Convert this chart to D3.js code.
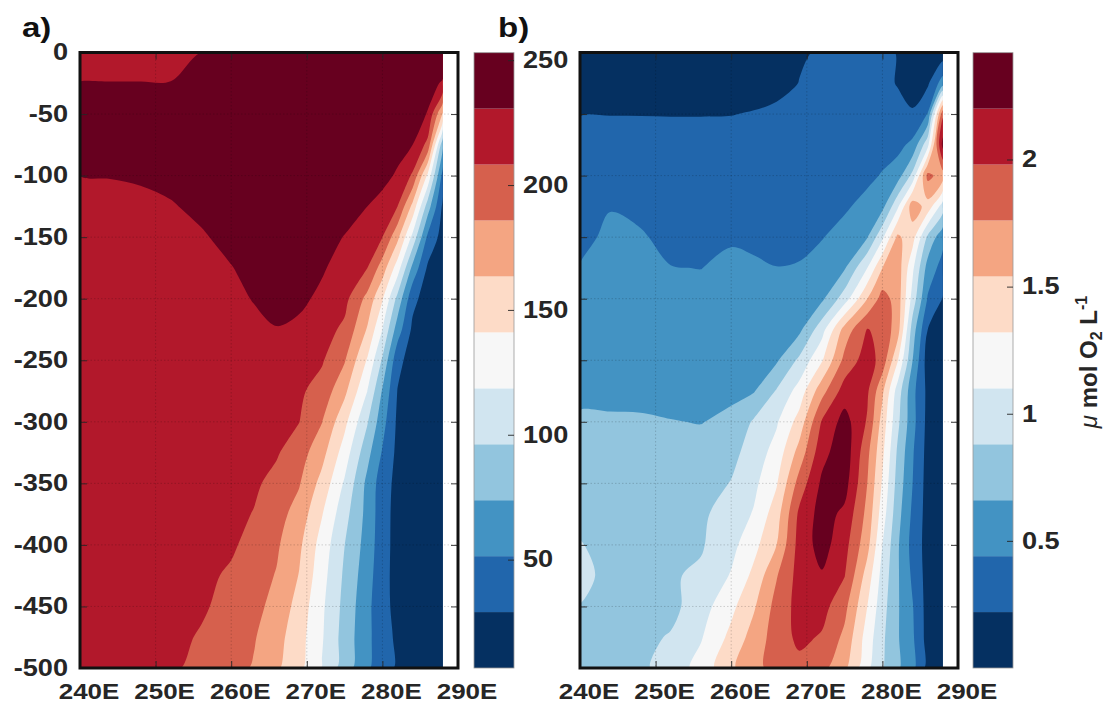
<!DOCTYPE html>
<html>
<head>
<meta charset="utf-8">
<script src="https://cdn.jsdelivr.net/npm/d3@7"></script>
<style>
  html, body { margin: 0; padding: 0; background: #fff; }
  svg { display: block; font-family: "Liberation Sans", Arial, Helvetica, sans-serif; font-weight: bold; }
</style>
</head>
<body>
<svg id="chart" width="1113" height="704"></svg>
<script>
// ---- grid coordinates of the two sections ----
const lonGrid = [240, 244, 248, 252, 256, 260, 263, 266, 269, 272, 275, 278, 280, 282, 284, 286, 288];
const depthGrid = [0, -25, -50, -75, -100, -125, -150, -175, -200, -225, -250, -275, -300, -325, -350, -375, -400, -425, -450, -475, -500];

// ---- panel a) field (rows = depth, columns = longitude) ----
const fieldA = [
  [223.9, 223.9, 223.9, 225.0, 230.6, 239.6, 241.8, 244, 244, 244, 244, 244, 244, 244, 244, 244, 244],
  [231.0, 231.0, 231.0, 231.0, 237.3, 241.8, 242.9, 244, 244, 244, 244, 244, 244, 244, 244, 237.3, 228.4],
  [237.3, 237.3, 238.4, 239.6, 241.8, 242.9, 244, 244, 244, 244, 244, 244, 244, 244, 239.6, 229.5, 161.2],
  [236.2, 237.3, 238.4, 239.6, 241.8, 242.9, 244, 244, 244, 244, 244, 244, 244, 239.6, 230.6, 201.5, 78.3],
  [230.6, 231.3, 232.8, 236.2, 239.6, 241.8, 242.9, 244, 244, 244, 244, 244, 238.4, 227.2, 205.1, 136.5, 42.4],
  [223.9, 225.0, 226.1, 229.0, 235.1, 239.6, 241.8, 242.9, 242.9, 241.8, 238.4, 230.6, 221.6, 208.5, 156.9, 85.0, 24.5],
  [220.5, 220.5, 221.6, 223.9, 228.4, 236.2, 239.6, 240.7, 239.6, 237.3, 229.9, 214.9, 208.5, 169.4, 112.1, 46.5, 20.0],
  [219.4, 219.4, 219.4, 221.6, 223.9, 229.9, 236.2, 238.4, 237.3, 232.4, 223.9, 208.6, 175.0, 129.8, 67.3, 25.6, 16.7],
  [219.4, 219.4, 219.4, 219.4, 221.6, 225.0, 231.7, 236.2, 234.0, 227.2, 214.9, 179.3, 143.0, 89.7, 35.0, 18.9, 15.6],
  [219.4, 219.4, 219.4, 219.4, 219.4, 221.6, 225.0, 229.9, 227.2, 217.2, 203.7, 161.4, 118.8, 62.6, 24.5, 16.7, 15.6],
  [219.4, 219.4, 219.4, 219.4, 219.4, 219.4, 219.4, 219.4, 216.0, 210.4, 187.6, 139.0, 93.5, 35.7, 18.9, 15.6, 15.6],
  [219.4, 219.4, 219.4, 219.4, 219.4, 219.4, 219.4, 216.0, 211.6, 199.9, 168.8, 118.8, 71.8, 28.3, 17.8, 15.6, 15.6],
  [219.4, 219.4, 219.4, 219.4, 219.4, 219.4, 217.2, 212.7, 208.6, 186.5, 147.0, 98.2, 59.9, 25.0, 17.8, 15.6, 15.6],
  [219.4, 219.4, 219.4, 219.4, 219.4, 218.3, 214.9, 210.4, 195.9, 171.2, 130.5, 81.2, 49.4, 23.4, 17.8, 15.6, 15.6],
  [219.4, 219.4, 219.4, 219.4, 219.4, 216.0, 211.6, 201.9, 187.4, 156.0, 115.7, 68.2, 39.5, 22.3, 17.8, 15.6, 15.6],
  [219.4, 219.4, 219.4, 219.4, 217.2, 213.8, 207.3, 194.3, 176.8, 142.3, 104.0, 66.9, 38.0, 21.2, 17.8, 15.6, 15.6],
  [219.4, 219.4, 219.4, 219.4, 216.0, 211.6, 200.1, 188.9, 167.7, 131.8, 96.4, 64.6, 37.5, 21.2, 17.8, 15.6, 15.6],
  [219.4, 219.4, 219.4, 218.3, 213.8, 204.8, 195.0, 184.5, 162.3, 126.9, 92.4, 60.8, 36.4, 21.2, 17.8, 15.6, 15.6],
  [219.4, 219.4, 219.4, 216.0, 211.6, 199.9, 191.6, 179.3, 154.4, 122.6, 89.5, 57.2, 36.2, 22.3, 17.8, 15.6, 15.6],
  [219.4, 219.4, 218.3, 214.9, 206.0, 195.4, 187.6, 171.5, 149.7, 120.8, 87.0, 56.6, 38.9, 24.5, 17.8, 15.6, 15.6],
  [219.4, 219.4, 217.2, 211.6, 201.7, 192.1, 184.0, 166.8, 146.2, 117.5, 85.0, 54.5, 39.1, 25.6, 17.8, 15.6, 15.6]
];

// ---- panel b) oxygen field, umol O2 / L (rows = depth, columns = longitude) ----
const fieldB = [
  [0.11, 0.11, 0.11, 0.11, 0.11, 0.121, 0.143, 0.176, 0.209, 0.229, 0.286, 0.286, 0.253, 0.213, 0.132, 0.11, 0.088],
  [0.165, 0.165, 0.165, 0.165, 0.165, 0.169, 0.169, 0.187, 0.222, 0.264, 0.286, 0.286, 0.253, 0.213, 0.132, 0.187, 0.55],
  [0.216, 0.216, 0.216, 0.216, 0.216, 0.217, 0.227, 0.242, 0.26, 0.286, 0.297, 0.297, 0.286, 0.264, 0.242, 0.451, 1.936],
  [0.262, 0.288, 0.277, 0.262, 0.262, 0.268, 0.273, 0.282, 0.297, 0.297, 0.308, 0.319, 0.341, 0.374, 0.495, 1.034, 2.288],
  [0.308, 0.361, 0.341, 0.308, 0.306, 0.321, 0.319, 0.321, 0.332, 0.341, 0.352, 0.385, 0.458, 0.55, 0.946, 1.826, 1.65],
  [0.354, 0.433, 0.405, 0.354, 0.35, 0.374, 0.365, 0.361, 0.37, 0.385, 0.407, 0.517, 0.594, 1.056, 1.672, 1.452, 0.99],
  [0.4, 0.471, 0.455, 0.4, 0.394, 0.425, 0.411, 0.403, 0.407, 0.429, 0.528, 0.649, 1.056, 1.584, 1.408, 0.836, 0.506],
  [0.447, 0.504, 0.491, 0.444, 0.438, 0.471, 0.46, 0.442, 0.449, 0.539, 0.638, 1.1, 1.54, 1.672, 1.144, 0.572, 0.352],
  [0.495, 0.537, 0.528, 0.488, 0.482, 0.51, 0.508, 0.506, 0.528, 0.616, 0.99, 1.54, 1.848, 1.672, 1.012, 0.418, 0.209],
  [0.539, 0.57, 0.563, 0.532, 0.528, 0.552, 0.557, 0.57, 0.607, 1.012, 1.628, 1.991, 1.914, 1.65, 0.77, 0.22, 0.132],
  [0.585, 0.605, 0.598, 0.576, 0.572, 0.594, 0.605, 0.631, 0.924, 1.298, 1.826, 2.09, 1.892, 1.342, 0.66, 0.11, 0.099],
  [0.631, 0.638, 0.634, 0.62, 0.616, 0.636, 0.645, 0.898, 1.188, 1.679, 2.081, 2.017, 1.584, 1.005, 0.506, 0.165, 0.11],
  [0.678, 0.671, 0.671, 0.664, 0.656, 0.686, 0.909, 1.074, 1.404, 2.0, 2.288, 1.958, 1.452, 0.935, 0.513, 0.154, 0.11],
  [0.726, 0.722, 0.715, 0.704, 0.704, 0.814, 0.979, 1.184, 1.624, 2.127, 2.343, 1.819, 1.368, 0.847, 0.462, 0.143, 0.11],
  [0.759, 0.748, 0.744, 0.737, 0.77, 0.891, 1.047, 1.3, 1.848, 2.242, 2.288, 1.76, 1.294, 0.796, 0.44, 0.132, 0.11],
  [0.814, 0.781, 0.77, 0.77, 0.847, 0.966, 1.12, 1.443, 2.026, 2.29, 2.152, 1.694, 1.21, 0.744, 0.396, 0.132, 0.11],
  [0.891, 0.814, 0.803, 0.814, 0.858, 1.034, 1.25, 1.54, 2.066, 2.288, 2.059, 1.613, 1.1, 0.693, 0.361, 0.132, 0.11],
  [0.913, 0.847, 0.836, 0.858, 0.917, 1.118, 1.377, 1.745, 2.064, 2.178, 1.987, 1.441, 1.021, 0.689, 0.4, 0.132, 0.11],
  [0.876, 0.847, 0.836, 0.814, 1.005, 1.263, 1.514, 1.837, 2.059, 2.059, 1.824, 1.32, 0.964, 0.686, 0.451, 0.132, 0.11],
  [0.836, 0.825, 0.825, 0.898, 1.082, 1.379, 1.632, 1.859, 2.031, 1.958, 1.709, 1.219, 0.922, 0.682, 0.471, 0.132, 0.11],
  [0.792, 0.803, 0.836, 0.972, 1.177, 1.496, 1.707, 1.822, 1.914, 1.822, 1.584, 1.144, 0.893, 0.691, 0.497, 0.132, 0.11]
];

// ---- axes and colour bars ----
const lonTicks = [240, 250, 260, 270, 280, 290];
const depthTicks = [0, -50, -100, -150, -200, -250, -300, -350, -400, -450, -500];
const barTicksA = [50, 100, 150, 200, 250];
const barTicksB = [0.5, 1, 1.5, 2];
const rangeA = [6.6, 253.0];
const rangeB = [0, 2.42];
// eleven classes, low -> high
const palette = ["#053061", "#2166ac", "#4393c3", "#92c5de", "#d1e5f0", "#f7f7f7",
                 "#fddbc7", "#f4a582", "#d6604d", "#b2182b", "#67001f"];

// ---- layout ----
const SX = 1.18;            // horizontal stretch of the lettering
const FONT = 23;
const TXT = "#262626";
const plotTop = 52.5, plotBottom = 668, plotW = 378;
const barTop = 52.7, barW = 40;

const svg = d3.select("#chart");
const defs = svg.append("defs");
const yDepth = d3.scaleLinear().domain([0, -500]).range([plotTop, plotBottom]);
const ringLine = d3.line().curve(d3.curveCatmullRomClosed.alpha(0.5));

const panels = [
  { id: "a", x0: 80,  field: fieldA, range: rangeA, barX: 474, barTicks: barTicksA, tag: "a)", tagX: 22, yLabels: true },
  { id: "b", x0: 580, field: fieldB, range: rangeB, barX: 973, barTicks: barTicksB, tag: "b)", tagX: 498, yLabels: false }
];

function styleAxis(sel) {
  sel.attr("font-size", FONT).attr("font-family", null).attr("color", TXT);
  sel.select(".domain").remove();
  sel.selectAll(".tick line").attr("stroke-width", 0.9);
}

panels.forEach(p => {
  const x = d3.scaleLinear().domain([240, 290]).range([p.x0, p.x0 + plotW]);
  const g = svg.append("g");

  // data area clip (the section ends at 288E)
  const lonMax = lonGrid[lonGrid.length - 1];
  defs.append("clipPath").attr("id", "clip-" + p.id).append("rect")
    .attr("x", x(240)).attr("y", plotTop)
    .attr("width", x(lonMax) - x(240)).attr("height", plotBottom - plotTop);

  // filled contours
  const nx = lonGrid.length, ny = depthGrid.length;
  const nLev = palette.length;
  const step = (p.range[1] - p.range[0]) / nLev;
  const thresholds = d3.range(nLev).map(i => p.range[0] + i * step);
  const contours = d3.contours().size([nx, ny]).thresholds(thresholds)(p.field.flat());
  const ix = d3.scaleLinear().domain(d3.range(nx)).range(lonGrid).clamp(true);
  const iy = d3.scaleLinear().domain(d3.range(ny)).range(depthGrid).clamp(true);
  const toPx = ([cx, cy]) => [x(ix(cx - 0.5)), yDepth(iy(cy - 0.5))];
  const ringPath = ring => {
    const pts = [];
    ring.slice(0, -1).map(toPx).forEach(pt => {
      const last = pts[pts.length - 1];
      if (!last || Math.abs(last[0] - pt[0]) > 0.01 || Math.abs(last[1] - pt[1]) > 0.01) pts.push(pt);
    });
    return pts.length > 2 ? ringLine(pts) : "";
  };
  const field = g.append("g").attr("clip-path", `url(#clip-${p.id})`);
  field.append("rect")
    .attr("x", x(240)).attr("y", plotTop)
    .attr("width", x(lonMax) - x(240)).attr("height", plotBottom - plotTop)
    .attr("fill", palette[0]);
  field.selectAll("path").data(contours).join("path")
    .attr("d", c => c.coordinates.map(poly => poly.map(ringPath).join("")).join(""))
    .attr("fill-rule", "evenodd")
    .attr("fill", (d, i) => palette[i]);

  // dotted grid
  const grid = g.append("g")
    .attr("stroke", "#000").attr("stroke-opacity", 0.25)
    .attr("stroke-width", 0.7).attr("stroke-dasharray", "1.5,2");
  lonTicks.slice(1, -1).forEach(v => grid.append("line")
    .attr("x1", x(v)).attr("x2", x(v)).attr("y1", plotTop).attr("y2", plotBottom));
  depthTicks.slice(1, -1).forEach(v => grid.append("line")
    .attr("x1", x(240)).attr("x2", x(290)).attr("y1", yDepth(v)).attr("y2", yDepth(v)));

  // axes (ticks point inwards)
  const axBottom = g.append("g").attr("transform", `translate(0,${plotBottom})`)
    .call(d3.axisBottom(x).tickValues(lonTicks).tickFormat(d => d + "E")
      .tickSizeInner(-7).tickSizeOuter(0).tickPadding(15.4));
  styleAxis(axBottom);
  axBottom.attr("font-size", 22);
  axBottom.selectAll("text").attr("x", 8.5 / SX).attr("transform", `scale(${SX},1)`);

  const axTop = g.append("g").attr("transform", `translate(0,${plotTop})`)
    .call(d3.axisTop(x).tickValues(lonTicks).tickFormat("").tickSizeInner(-7).tickSizeOuter(0));
  styleAxis(axTop);

  const axLeft = g.append("g").attr("transform", `translate(${x(240)},0)`)
    .call(d3.axisLeft(yDepth).tickValues(depthTicks)
      .tickFormat(p.yLabels ? (d => String(d)) : "")
      .tickSizeInner(-7).tickSizeOuter(0).tickPadding(12));
  styleAxis(axLeft);
  axLeft.selectAll("text").attr("x", -12 / SX).attr("transform", `scale(${SX},1)`);

  const axRight = g.append("g").attr("transform", `translate(${x(290)},0)`)
    .call(d3.axisRight(yDepth).tickValues(depthTicks).tickFormat("").tickSizeInner(-7).tickSizeOuter(0));
  styleAxis(axRight);

  // frame
  g.append("rect")
    .attr("x", x(240)).attr("y", plotTop)
    .attr("width", x(290) - x(240)).attr("height", plotBottom - plotTop)
    .attr("fill", "none").attr("stroke", "#111").attr("stroke-width", 3);

  // colour bar
  const cb = d3.scaleLinear().domain(p.range).range([plotBottom, barTop]);
  const bar = svg.append("g");
  bar.selectAll("rect.lev").data(thresholds).join("rect")
    .attr("class", "lev")
    .attr("x", p.barX).attr("width", barW)
    .attr("y", t => cb(t + step)).attr("height", t => cb(t) - cb(t + step))
    .attr("fill", (t, i) => palette[i]);
  bar.append("rect")
    .attr("x", p.barX).attr("y", barTop).attr("width", barW).attr("height", plotBottom - barTop)
    .attr("fill", "none").attr("stroke", "#9a9a9a").attr("stroke-width", 0.8);
  const axBar = bar.append("g").attr("transform", `translate(${p.barX + barW},0)`)
    .call(d3.axisRight(cb).tickValues(p.barTicks).tickFormat(d => String(d))
      .tickSizeInner(-6).tickSizeOuter(0).tickPadding(9));
  styleAxis(axBar);
  axBar.selectAll("text").attr("x", 9 / SX).attr("transform", `scale(${SX},1)`);

  // panel tag
  svg.append("g").attr("transform", `translate(${p.tagX},37)`)
    .append("text").attr("transform", `scale(${SX},1)`)
    .attr("font-size", 28).attr("fill", "#111").text(p.tag);
});

// colour bar title for panel b
const title = svg.append("g").attr("transform", "translate(1097,362)")
  .append("text")
  .attr("transform", "rotate(-90)")
  .attr("text-anchor", "middle")
  .attr("font-size", 24).attr("fill", TXT);
title.append("tspan").attr("font-style", "italic").attr("font-weight", "normal").text("\u03bc");
title.append("tspan").text(" mol O");
title.append("tspan").attr("font-size", 16).attr("dy", 5).text("2");
title.append("tspan").attr("dy", -5).text(" L");
title.append("tspan").attr("font-size", 16).attr("dy", -10).text("-1");
</script>
</body>
</html>
